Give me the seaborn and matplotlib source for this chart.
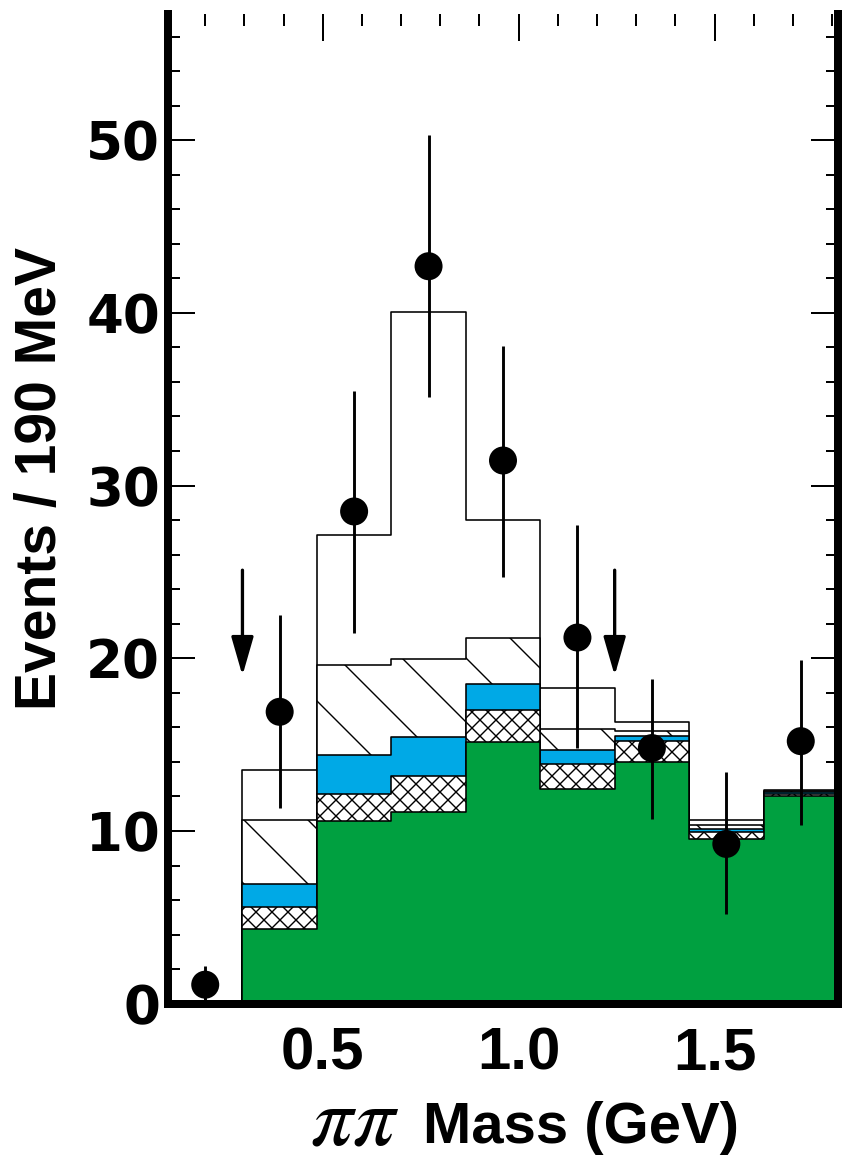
import numpy as np
import matplotlib
matplotlib.use("Agg")
import matplotlib.pyplot as plt
import seaborn as sns
from matplotlib.ticker import MultipleLocator, FixedLocator

# ---------------- data ----------------
bin_edges = [0.105, 0.295, 0.485, 0.675, 0.865, 1.055, 1.245, 1.435, 1.625, 1.815]
bin_centers = [0.20, 0.39, 0.58, 0.77, 0.96, 1.15, 1.34, 1.53, 1.72]

# stacked components (bottom -> top)
green_vals = [0.00, 4.33, 10.58, 11.08, 15.14, 12.41, 13.98, 9.55, 12.03]
xhatch_vals = [0.00, 1.29, 1.56, 2.12, 1.85, 1.47, 1.23, 0.37, 0.09]
blue_vals = [0.15, 1.31, 2.28, 2.23, 1.52, 0.79, 0.29, 0.21, 0.14]
diag_vals = [0.00, 3.71, 5.17, 4.53, 2.65, 1.22, 0.31, 0.20, 0.07]
open_vals = [0.00, 2.87, 7.55, 20.11, 6.84, 2.41, 0.48, 0.31, 0.04]

# data points with errors
data_y = [1.1, 16.9, 28.5, 42.7, 31.45, 21.2, 14.8, 9.25, 15.2]
data_err_hi = [1.1, 5.6, 7.0, 7.6, 6.65, 6.5, 4.0, 4.15, 4.7]
data_err_lo = [1.1, 5.55, 7.05, 7.6, 6.75, 6.4, 4.1, 4.05, 4.85]

# cut arrows
arrow_x = [0.295, 1.245]
arrow_top = 25.1
arrow_tip = 19.0

x_major_ticks = [0.5, 1.0, 1.5]
x_tick_labels = ["0.5", "1.0", "1.5"]
y_major_ticks = [0, 10, 20, 30, 40, 50]
y_tick_labels = ["0", "10", "20", "30", "40", "50"]

# ---------------- style ----------------
DPI = 192


def P(px):
    """pixels -> points"""
    return px * 72.0 / DPI


sns.set_style("ticks")
plt.rcParams.update({
    "hatch.linewidth": P(1.4),
    "mathtext.fontset": "stix",
    "text.color": "black",
    "axes.labelcolor": "black",
    "xtick.color": "black",
    "ytick.color": "black",
})

fig = plt.figure(figsize=(855 / DPI, 1163 / DPI), dpi=DPI)
ax = fig.add_axes([0.1965, 0.137, 0.7836, 0.8509])

GREEN = "#00A040"
BLUE = "#00A9E6"
EDGE_LW = P(1.6)

layers = [green_vals, xhatch_vals, blue_vals, diag_vals, open_vals]
cums = np.cumsum(np.array(layers), axis=0)

styles = [
    dict(facecolor=GREEN, hatch=None),
    dict(facecolor="white", hatch="xxxx"),
    dict(facecolor=BLUE, hatch=None),
    dict(facecolor="white", hatch="\\"),
    dict(facecolor="white", hatch=None),
]

# draw from the top of the stack downwards
for i in range(len(layers) - 1, -1, -1):
    st = styles[i]
    kws = dict(facecolor=st["facecolor"], edgecolor="black", linewidth=EDGE_LW)
    if st["hatch"]:
        kws["hatch"] = st["hatch"]
    sns.histplot(x=bin_centers, weights=cums[i], bins=bin_edges, element="step",
                 fill=True, ax=ax, zorder=1 + (len(layers) - i) * 0.1, **kws)

# error bars and data points
lo = np.array(data_y) - np.array(data_err_lo)
hi = np.array(data_y) + np.array(data_err_hi)
ax.vlines(bin_centers, lo, hi, color="black", linewidth=P(2.9), zorder=5)
sns.scatterplot(x=bin_centers, y=data_y, s=P(28) ** 2, color="black", edgecolor="none",
                zorder=6, ax=ax, legend=False)

# arrows
for xa in arrow_x:
    ax.annotate("", xy=(xa, arrow_tip), xytext=(xa, arrow_top),
                arrowprops=dict(arrowstyle="-|>,head_length=%.3f,head_width=%.3f" % (P(33), P(9.5)),
                                mutation_scale=1, lw=P(3.3), color="black",
                                shrinkA=0, shrinkB=0), zorder=6)

# ---------------- axes ----------------
ax.set_xlim(bin_edges[0], bin_edges[-1])
ax.set_ylim(0, 57.3)

ax.xaxis.set_major_locator(FixedLocator(x_major_ticks))
ax.xaxis.set_minor_locator(MultipleLocator(0.1))
ax.yaxis.set_major_locator(FixedLocator(y_major_ticks))
ax.yaxis.set_minor_locator(MultipleLocator(2))
ax.set_xticklabels(x_tick_labels)
ax.set_yticklabels(y_tick_labels)

for s in ["left", "bottom", "right"]:
    ax.spines[s].set_linewidth(P(8))
    ax.spines[s].set_color("black")
    ax.spines[s].set_visible(True)
ax.spines["top"].set_visible(False)

ax.tick_params(which="both", direction="in", top=True, right=True, bottom=True, left=True,
               color="black")
ax.tick_params(which="major", length=P(27), width=P(2))
ax.tick_params(which="minor", length=P(12), width=P(2))
ax.tick_params(axis="x", which="major", pad=P(23))
ax.tick_params(axis="y", which="major", pad=P(8))

for lab in ax.get_xticklabels():
    lab.set_fontfamily(["Liberation Sans", "DejaVu Sans"])
    lab.set_fontweight("bold")
    lab.set_fontsize(P(60))
for lab in ax.get_yticklabels():
    lab.set_fontfamily(["DejaVu Sans"])
    lab.set_fontweight("bold")
    lab.set_fontsize(P(53))

ax.set_xlabel("Mass (GeV)", fontsize=P(58), fontweight="bold",
              fontfamily=["Liberation Sans", "DejaVu Sans"])
ax.xaxis.set_label_coords(0.616, -0.0985)
ax.xaxis.label.set_va("top")
ax.text(0.278, -0.1425, r"$\pi\pi$", transform=ax.transAxes, fontsize=P(84),
        ha="center", va="baseline", color="black")

ax.set_ylabel("Events / 190 MeV", fontsize=P(57), fontweight="bold",
              fontfamily=["Liberation Sans", "DejaVu Sans"])
ax.yaxis.set_label_coords(-0.150, 0.531)

fig.savefig("out.png", dpi=DPI, facecolor="white")
